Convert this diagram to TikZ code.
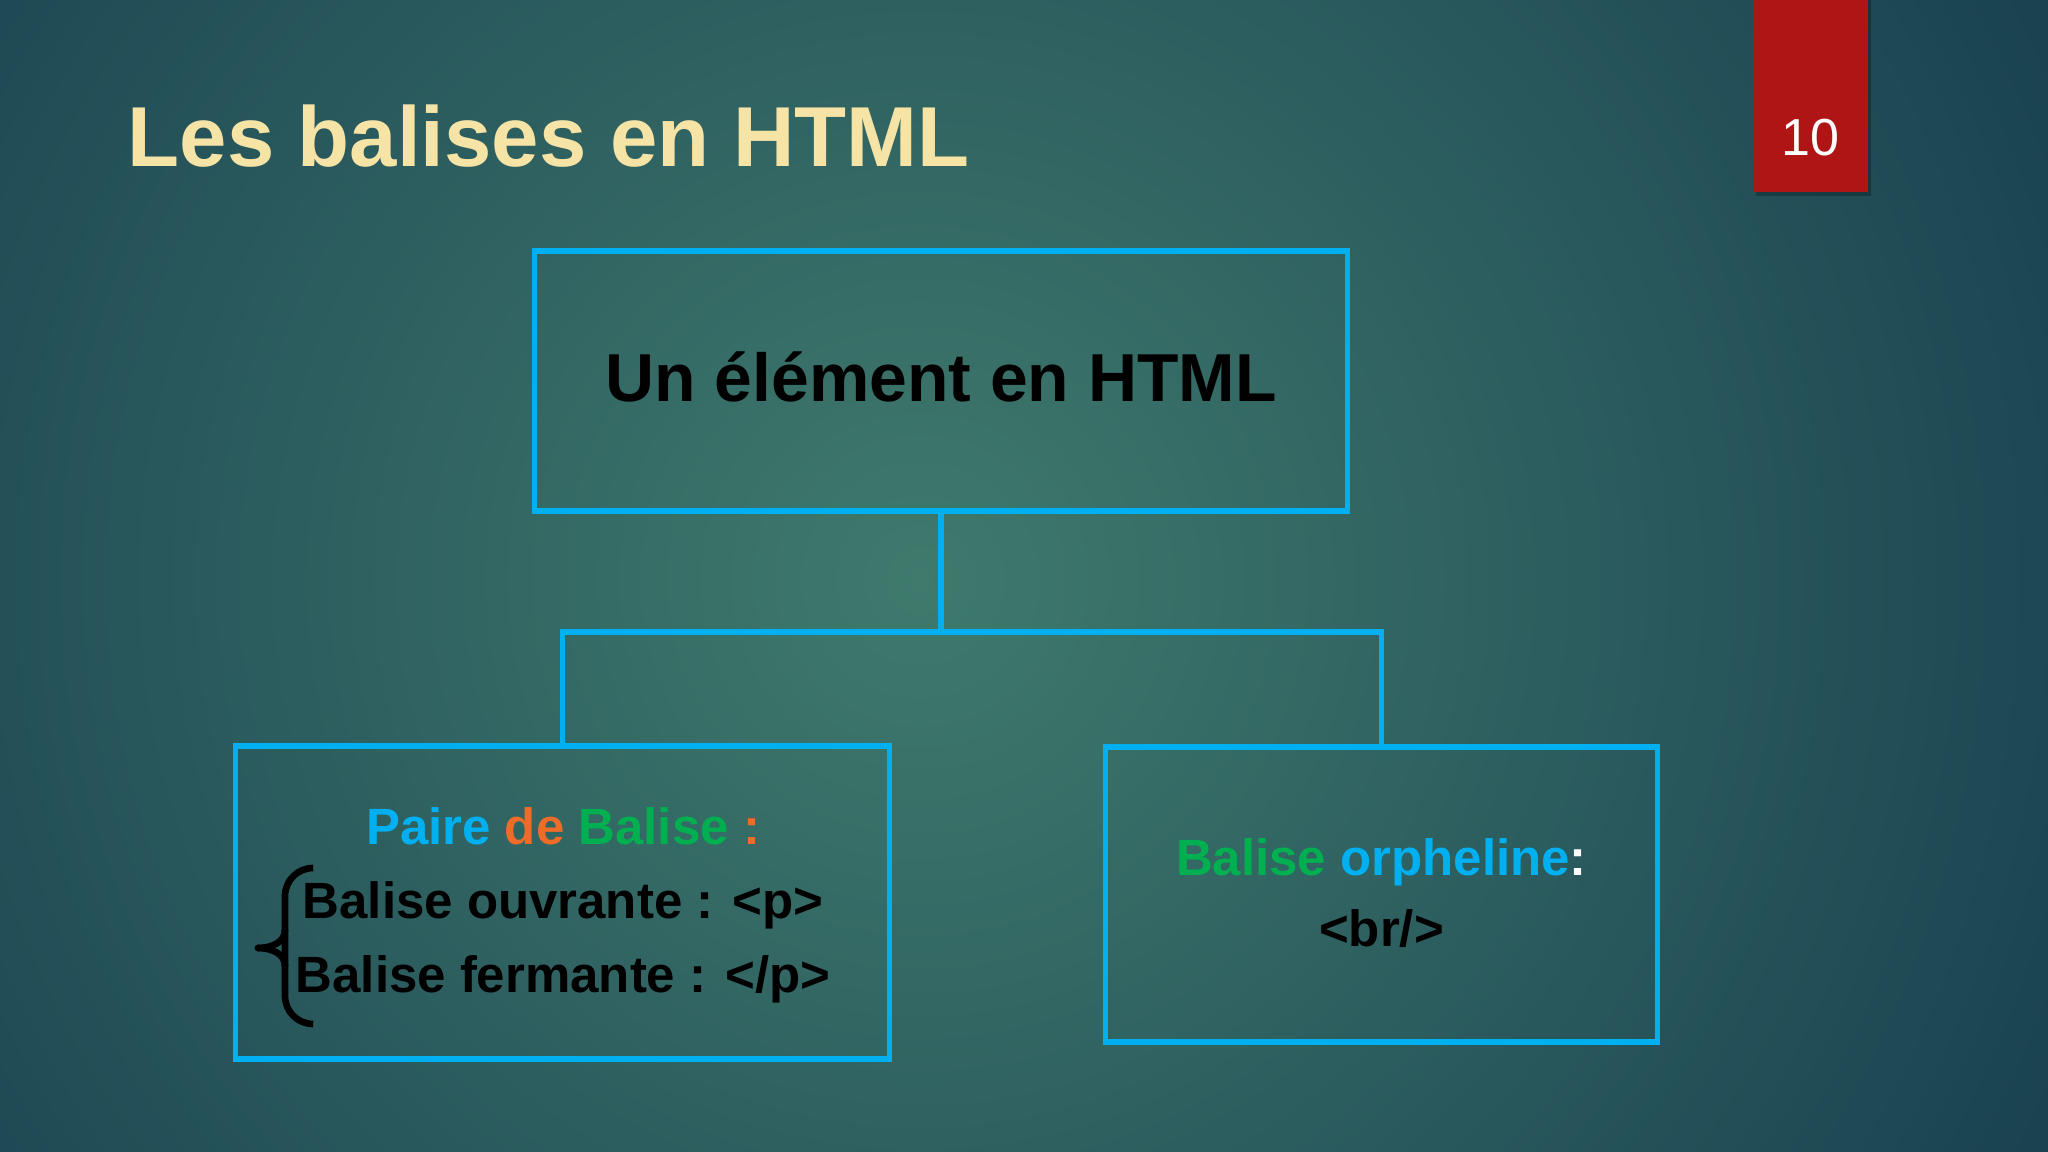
\documentclass[tikz,border=0pt]{standalone}
\usepackage{fontspec}
\setmainfont{Liberation Sans}
\definecolor{bgin}{HTML}{3F7A6D}
\definecolor{bgout}{HTML}{1A4251}
\definecolor{boxblue}{HTML}{00B0F0}
\definecolor{titlecream}{HTML}{F6E3A6}
\definecolor{pagered}{HTML}{B01515}
\definecolor{ogreen}{HTML}{00B050}
\definecolor{oorange}{HTML}{EE6B28}
\begin{document}
\begin{tikzpicture}[x=0.01cm,y=-0.01cm,
  box/.style={draw=boxblue, line width=1.5pt, rectangle, inner sep=0pt},
  conn/.style={draw=boxblue, line width=1.5pt},
  bodytext/.style={font=\bfseries\fontsize{14.5}{21}\selectfont, align=center, inner sep=0pt},
  bracestyle/.style={draw=black, line width=1.9pt, line cap=round}]
\useasboundingbox (0,0) rectangle (2048,1152);
% background
\fill[bgout] (0,0) rectangle (2048,1152);
\begin{scope}
\clip (0,0) rectangle (2048,1152);
\shade[inner color=bgin, outer color=bgout] (920,580) circle (12.5cm);
\end{scope}
% page number tab
\fill[black, opacity=0.25] (1756,0) rectangle (1871,196);
\node[rectangle, fill=pagered, minimum width=1.15cm, minimum height=1.92cm, inner sep=0pt] (tab) at (1810.5,96) {};
\node[text=white, font=\fontsize{14.8}{18}\selectfont, inner sep=0pt] (pagenum) at (1810,138) {10};
% title
\node[anchor=base west, text=titlecream, font=\bfseries\fontsize{24.2}{29}\selectfont, inner sep=0pt] (title) at (127,167) {Les balises en HTML};
% boxes
\node[box, minimum width=8.12cm, minimum height=2.60cm] (top) at (941,381) {};
\node[font=\bfseries\fontsize{19.3}{23}\selectfont, inner sep=0pt] (toptext) at (941,377) {Un élément en HTML};
\node[box, minimum width=6.53cm, minimum height=3.13cm] (left) at (562.5,902.5) {};
\node[box, minimum width=5.51cm, minimum height=2.95cm] (right) at (1381.5,894.5) {};
% connectors
\coordinate (hub) at (941,632);
\draw[conn] (top.south) -- (hub);
\draw[conn] (left.north) |- (hub);
\draw[conn] (hub) -| (right.north);
% left text
\node[bodytext] (lefttext) at (563,905) {%
  \textcolor{boxblue}{Paire} \textcolor{oorange}{de} \textcolor{ogreen}{Balise} \textcolor{oorange}{:}\\
  Balise ouvrante : <p>\\
  Balise fermante : </p>};
% brace
\draw[bracestyle, rounded corners=8pt] (313,868) -- (285,868) -- (285,1024) -- (313,1024);
\draw[bracestyle] (285,930) to[out=-90,in=0] (258,948);
\draw[bracestyle] (285,966) to[out=90,in=0] (258,948);
% right text
\node[bodytext, font=\bfseries\fontsize{14.5}{20}\selectfont] (righttext) at (1381.5,893) {%
  \textcolor{ogreen}{Balise} \textcolor{boxblue}{orpheline}\textcolor{white}{:}\\
  <br/>};
\end{tikzpicture}
\end{document}
